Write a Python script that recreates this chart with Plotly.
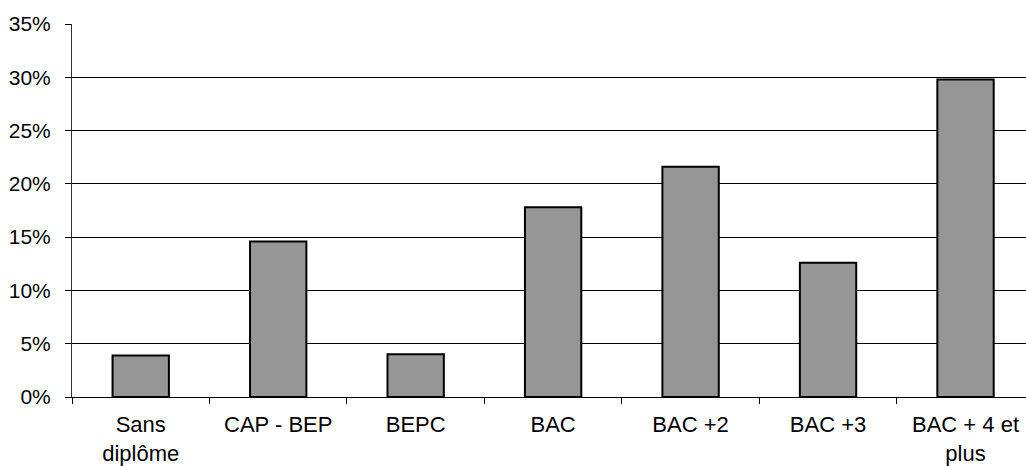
import plotly.graph_objects as go

categories = ["Sans<br>diplôme", "CAP - BEP", "BEPC", "BAC", "BAC +2", "BAC +3", "BAC + 4 et<br>plus"]
values = [0.039, 0.146, 0.040, 0.178, 0.216, 0.126, 0.298]
y_tickvals = [0, 0.05, 0.10, 0.15, 0.20, 0.25, 0.30, 0.35]
y_ticktext = ["0%", "5%", "10%", "15%", "20%", "25%", "30%", "35%"]

fig = go.Figure(
    go.Bar(
        x=categories,
        y=values,
        marker=dict(color="#969696", line=dict(color="#000000", width=2)),
        hoverinfo="skip",
    )
)

xfont = dict(family="Liberation Sans, Arial, sans-serif", size=22, color="#000000")
yfont = dict(family="Liberation Sans, Arial, sans-serif", size=21, color="#000000")

fig.update_layout(
    width=1026,
    height=466,
    margin=dict(l=72, r=0, t=24, b=69),
    paper_bgcolor="#ffffff",
    plot_bgcolor="#ffffff",
    bargap=0.59,
    showlegend=False,
    font=yfont,
    xaxis=dict(
        type="category",
        range=[-0.5, 6.44],
        automargin=False,
        showline=True,
        linecolor="#000000",
        linewidth=1,
        ticks="outside",
        tickson="boundaries",
        ticklen=6,
        tickcolor="#000000",
        showgrid=False,
        tickfont=xfont,
        ticklabelstandoff=8,
        fixedrange=True,
    ),
    yaxis=dict(
        range=[0, 0.35],
        automargin=False,
        tickvals=y_tickvals,
        ticktext=y_ticktext,
        showline=True,
        linecolor="#333333",
        linewidth=1,
        ticks="outside",
        ticklen=6,
        tickcolor="#000000",
        showgrid=True,
        gridcolor="#000000",
        gridwidth=1,
        zeroline=False,
        tickfont=yfont,
        ticklabelstandoff=10,
        fixedrange=True,
    ),
)

page_style = (
    "document.body.style.margin='0';"
    "document.body.style.overflow='hidden';"
)

fig.write_html("out.html", post_script=page_style, config={"displayModeBar": False})
